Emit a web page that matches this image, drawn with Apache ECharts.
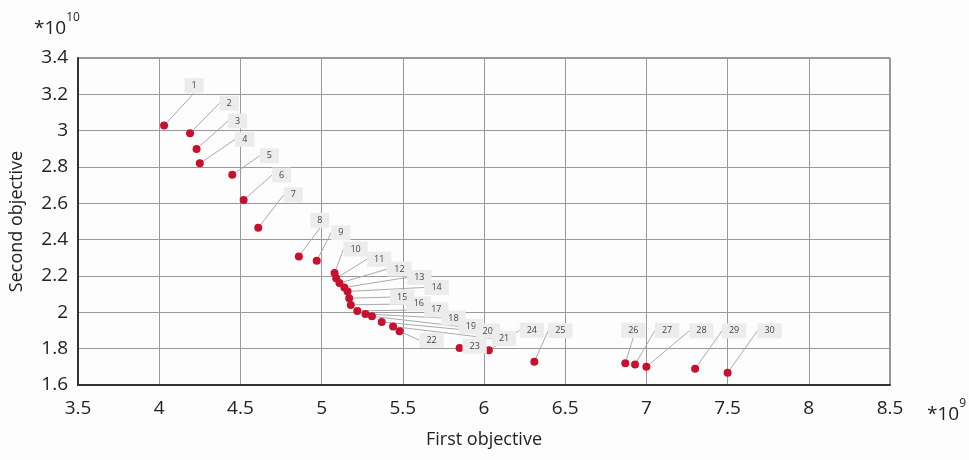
<!DOCTYPE html>
<html>
<head>
<meta charset="utf-8">
<script src="https://cdn.jsdelivr.net/npm/echarts@6/dist/echarts.min.js"></script>
<style>
  html, body { margin: 0; padding: 0; background: #fdfdfd; }
  #chart { width: 969px; height: 460px; }
</style>
</head>
<body>
<div id="chart"></div>
<script>
// Pareto front: первая цель (×10^9), вторая цель (×10^10)
const pointIds = ['1','2','3','4','5','6','7','8','9','10','11','12','13','14','15',
  '16','17','18','19','20','21','22','23','24','25','26','27','28','29','30'];
const firstObjective = [4.03, 4.19, 4.23, 4.25, 4.45, 4.52, 4.61, 4.86, 4.97, 5.08,
  5.09, 5.11, 5.14, 5.16, 5.17, 5.18, 5.22, 5.27, 5.31, 5.37,
  5.44, 5.48, 5.85, 6.03, 6.31, 6.87, 6.93, 7.00, 7.30, 7.50];
const secondObjective = [3.028, 2.986, 2.899, 2.820, 2.757, 2.618, 2.465, 2.308, 2.284, 2.216,
  2.188, 2.161, 2.137, 2.115, 2.078, 2.041, 2.008, 1.991, 1.978, 1.947,
  1.922, 1.896, 1.803, 1.791, 1.728, 1.720, 1.713, 1.700, 1.689, 1.667];
const xTicks = { min: 3.5, max: 8.5, step: 0.5 };
const yTicks = { min: 1.6, max: 3.4, step: 0.2 };

// ручная раскладка подписей: смещение плашки от точки, px
const labelOffsets = [
  [30, -40], [39, -30], [41, -28], [45, -24], [37, -19], [38, -25], [35, -33],
  [21, -36], [24, -28], [21, -24], [43, -19], [60, -14], [75, -10], [89, -4],
  [53, -1], [68, -1], [79, -1], [88, 4], [99, 10], [106, 9], [111, 12],
  [32, 9], [15, -2], [43, -20], [26, -31], [8, -33], [32, -34], [55, -36],
  [39, -38], [42, -42],
];

const FONT = '"Open Sans", "Noto Sans", sans-serif';
const chart = echarts.init(document.getElementById('chart'));

const data = firstObjective.map((x, i) => ({ value: [x, secondObjective[i]], name: pointIds[i] }));

chart.setOption({
  backgroundColor: '#fdfdfd',
  animation: false,
  textStyle: { fontFamily: FONT },
  grid: {
    left: 75, right: 79, top: 58, bottom: 75,
    show: true, borderColor: '#333', borderWidth: 1,
  },
  xAxis: {
    type: 'value', min: xTicks.min, max: xTicks.max, interval: xTicks.step,
    name: 'First objective', nameLocation: 'middle', nameGap: 46,
    nameTextStyle: { fontSize: 18, color: '#222', fontFamily: FONT },
    axisLine: { show: true, lineStyle: { color: '#333', width: 2 } },
    axisTick: { show: false },
    axisLabel: { fontSize: 19, color: '#222', margin: 14, formatter: (v) => String(+v.toFixed(1)) },
    splitLine: { lineStyle: { color: '#999', width: 1 } },
  },
  yAxis: {
    type: 'value', min: yTicks.min, max: yTicks.max, interval: yTicks.step,
    name: 'Second objective', nameLocation: 'middle', nameGap: 52,
    nameTextStyle: { fontSize: 18, color: '#222', fontFamily: FONT },
    axisLine: { show: true, lineStyle: { color: '#333', width: 2 } },
    axisTick: { show: false },
    axisLabel: { fontSize: 19, color: '#222', margin: 10, formatter: (v) => String(+v.toFixed(1)) },
    splitLine: { lineStyle: { color: '#999', width: 1 } },
  },
  graphic: [
    {
      type: 'text', left: 34, top: 12,
      style: {
        text: '{b|*10}{s|10}',
        rich: {
          b: { fontSize: 19, fill: '#222', fontFamily: FONT, lineHeight: 26, verticalAlign: 'bottom' },
          s: { fontSize: 12, fill: '#222', fontFamily: FONT, lineHeight: 26, verticalAlign: 'top' },
        },
      },
    },
    {
      type: 'text', left: 927, top: 398,
      style: {
        text: '{b|*10}{s|9}',
        rich: {
          b: { fontSize: 19, fill: '#222', fontFamily: FONT, lineHeight: 26, verticalAlign: 'bottom' },
          s: { fontSize: 12, fill: '#222', fontFamily: FONT, lineHeight: 26, verticalAlign: 'top' },
        },
      },
    },
  ],
  series: [{
    type: 'scatter',
    symbolSize: 8,
    itemStyle: { color: '#c8102e', opacity: 1 },
    data,
    label: {
      show: true, position: 'inside',
      formatter: (p) => p.name,
      fontSize: 9, color: '#444', fontFamily: FONT,
      backgroundColor: '#ececec', padding: [3, 7],
    },
    labelLine: { show: true, lineStyle: { color: '#aaa', width: 1 } },
    labelLayout: (p) => {
      const o = labelOffsets[p.dataIndex];
      return { dx: o[0], dy: o[1] };
    },
    emphasis: { disabled: true },
  }],
});
</script>
</body>
</html>
